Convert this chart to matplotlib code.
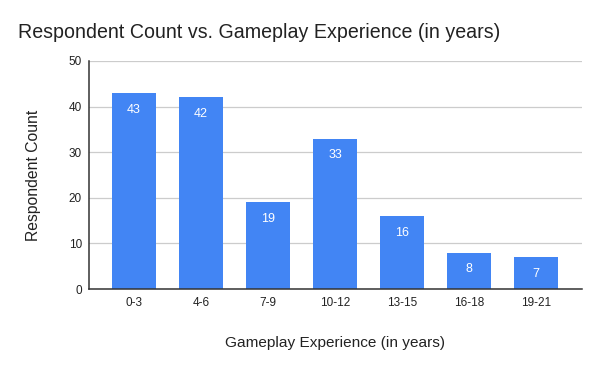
import numpy as np
import matplotlib
matplotlib.use('Agg')
import matplotlib.pyplot as plt

plt.rcParams['font.family'] = ['Liberation Sans', 'DejaVu Sans']

categories = ['0-3', '4-6', '7-9', '10-12', '13-15', '16-18', '19-21']
counts = [43, 42, 19, 33, 16, 8, 7]

fig = plt.figure(figsize=(6, 3.71), dpi=100)
ax = fig.add_axes([0.148, 0.221, 0.8215, 0.6146])

x = np.arange(len(categories))
bars = ax.bar(x, counts, 0.66, color='#4285f4', zorder=3)
for b, v in zip(bars, counts):
    ax.annotate(str(v), (b.get_x() + b.get_width() / 2, v), xytext=(0, -12),
                textcoords='offset points', ha='center', va='center',
                color='white', fontsize=9, zorder=4)

ax.set_xlim(-0.673, 6.68)
ax.set_ylim(0, 50)
ax.set_yticks(range(0, 51, 10))
ax.set_xticks(x)
ax.set_xticklabels(categories)
ax.tick_params(length=0, labelsize=8.5, colors='#222222', pad=6)
ax.tick_params(axis='y', pad=5)
ax.grid(axis='y', color='#cccccc', lw=0.9, zorder=0)
for s in ('top', 'right'):
    ax.spines[s].set_visible(False)
for s in ('left', 'bottom'):
    ax.spines[s].set_color('#333333')
    ax.spines[s].set_linewidth(1.1)
    ax.spines[s].set_zorder(5)

ax.set_ylabel('Respondent Count', fontsize=11.3, color='#222222', labelpad=20)
ax.set_xlabel('Gameplay Experience (in years)', fontsize=11.1, color='#222222', labelpad=19)
fig.text(18 / 600, 1 - 32 / 371, 'Respondent Count vs. Gameplay Experience (in years)',
         fontsize=14.1, color='#222222', va='center', ha='left')

fig.savefig('out.png', dpi=100)
